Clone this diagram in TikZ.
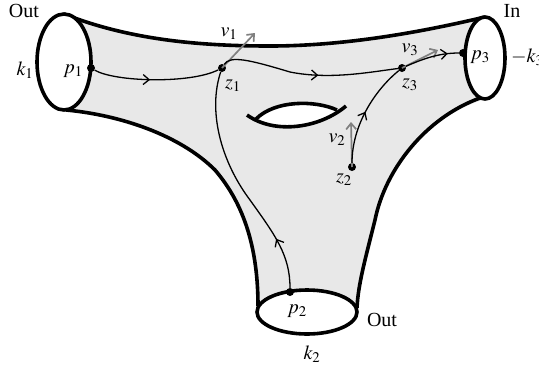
\documentclass[tikz,border=0pt]{standalone}
\usepackage{mathptmx}
\usepackage{fontspec}
\setmainfont{Liberation Serif}
\usetikzlibrary{arrows.meta,decorations.markings}

\begin{document}
\begin{tikzpicture}[x=1pt, y=-1pt, font=\fontsize{20}{24}\selectfont,
    outline/.style={line width=3.6pt},
    flow/.style={line width=1.3pt, postaction={decorate},
      decoration={markings, mark=at position #1 with {\arrow{Straight Barb[length=6pt,width=10pt,line width=1.3pt]}}}},
    flow/.default=0.5,
    vec/.style={gray, line width=1.7pt, -{Straight Barb[length=6pt,width=10pt]}},
    dot/.style={circle, fill, inner sep=0pt, minimum size=8pt},
    lbl/.style={inner sep=0pt}]
  \useasboundingbox (0,0) rectangle (539,368);

  % Surface
  \fill[black!9] (64,14) .. controls (130,40) and (200,46) .. (270,46)
      .. controls (350,46) and (430,30) .. (485,17) -- (485,99)
      .. controls (425,118) and (385,170) .. (375,220)
      .. controls (365,260) and (358,285) .. (357,312) -- (257,312)
      .. controls (258,250) and (245,205) .. (215,170)
      .. controls (180,135) and (120,115) .. (64,110) -- cycle;
  \draw[outline] (64,14) .. controls (130,40) and (200,46) .. (270,46)
      .. controls (350,46) and (430,30) .. (485,17);
  \draw[outline] (480,98) .. controls (425,118) and (385,170) .. (375,220)
      .. controls (365,260) and (358,285) .. (357,308);
  \draw[outline] (258,306) .. controls (258,250) and (245,205) .. (215,170)
      .. controls (180,135) and (120,115) .. (66,110);

  % Boundary circles
  \draw[outline, fill=white] (64,62) ellipse [x radius=27, y radius=48];
  \draw[outline, fill=white] (485,58) ellipse [x radius=20, y radius=41];
  \draw[outline, fill=white] (307,312) ellipse [x radius=50, y radius=22];

  % Handle
  \fill[white] (256,119) .. controls (275,100) and (315,100) .. (337,110)
      .. controls (315,128) and (275,130) .. (256,119);
  \draw[outline] (247,115) .. controls (275,135) and (320,128) .. (346,106);
  \draw[outline] (256,119) .. controls (275,100) and (315,100) .. (337,110);

  % Points
  \node[dot] (p1) at (91,68) {};
  \node[dot] (z1) at (222,68) {};
  \node[dot] (z3) at (402,68) {};
  \node[dot] (p3) at (463,53) {};
  \node[dot] (z2) at (352,167) {};
  \node[dot] (p2) at (290,292) {};
  \coordinate (v1tip) at (255,33);
  \coordinate (v3tip) at (438,50);
  \coordinate (v2tip) at (351,122);

  % Tangent vectors
  \draw[vec] (z1.center) -- (v1tip);
  \draw[vec] (z3.center) -- (v3tip);
  \draw[vec] (z2.center) -- (v2tip);

  % Paths
  \draw[flow=0.45] (p1) .. controls (115,82) and (190,84) .. (z1);
  \draw[flow=0.55] (z1) .. controls (230,55) and (250,60) .. (290,72)
      .. controls (330,80) and (370,72) .. (z3);
  \draw[flow=0.8] (z3) .. controls (425,58) and (440,53) .. (p3);
  \draw[flow=0.5] (z2) .. controls (352,125) and (375,90) .. (z3);
  \draw[flow=0.22] (p2) .. controls (290,255) and (275,235) .. (250,200)
      .. controls (220,160) and (208,110) .. (z1);

  % Labels
  \node[lbl] (outk1) at (24,11) {Out};
  \node[lbl] (ink3) at (512,11) {In};
  \node[lbl] (outk2) at (382,320) {Out};
  \node[lbl] (k1) at (25,70) {$k_1$};
  \node[lbl] (k2) at (312,354) {$k_2$};
  \node[lbl, anchor=west] (k3) at (511,57) {$-k_3$};
  \node[lbl] (p1l) at (73,71) {$p_1$};
  \node[lbl] (p2l) at (297,311) {$p_2$};
  \node[lbl] (p3l) at (480,57) {$p_3$};
  \node[lbl] (z1l) at (233,86) {$z_1$};
  \node[lbl] (z2l) at (344,180) {$z_2$};
  \node[lbl] (z3l) at (410,85) {$z_3$};
  \node[lbl] (v1l) at (229,34) {$v_1$};
  \node[lbl] (v2l) at (337,140) {$v_2$};
  \node[lbl] (v3l) at (410,50) {$v_3$};
\end{tikzpicture}
\end{document}
